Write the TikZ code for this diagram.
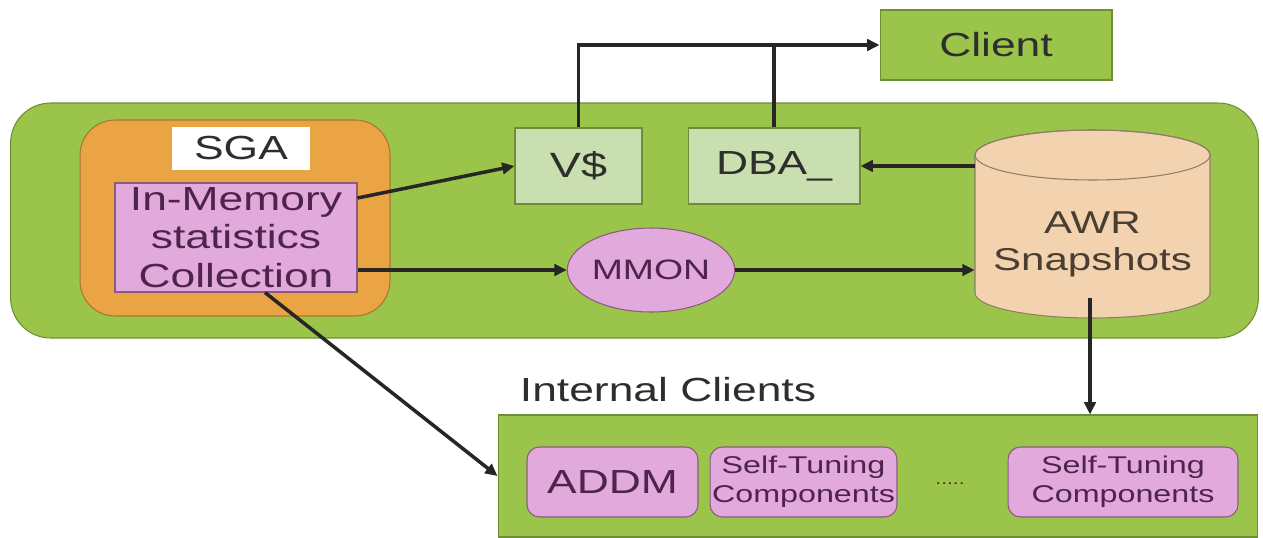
\documentclass[tikz,border=0pt]{standalone}
\usepackage{fontspec}
\setmainfont{Liberation Sans}[FakeStretch=1.33]
\usetikzlibrary{shapes.geometric,arrows.meta,calc}
\definecolor{grn}{HTML}{9BC54A}
\definecolor{grnd}{HTML}{6E8E35}
\definecolor{lgrn}{HTML}{CADFAF}
\definecolor{org}{HTML}{EBA443}
\definecolor{orgd}{HTML}{A7772F}
\definecolor{pnk}{HTML}{E2A9DD}
\definecolor{pnkd}{HTML}{8A5A7F}
\definecolor{pch}{HTML}{F3D3AF}
\definecolor{pchd}{HTML}{8F7E66}
\definecolor{txt}{HTML}{2E2E2E}
\definecolor{ptxt}{HTML}{4E244B}
\definecolor{btxt}{HTML}{4A3E33}
\begin{document}
\begin{tikzpicture}[x=0.02cm,y=-0.02cm,
  big/.style={font=\fontsize{19}{22}\selectfont},
  small/.style={font=\fontsize{13.8}{16.5}\selectfont},
  gbox/.style={draw=grnd, fill=grn, line width=0.6pt, inner sep=0pt},
  lgbox/.style={draw=grnd, fill=lgrn, line width=0.6pt, inner sep=0pt, text=txt, big},
  pbox/.style={draw=pnkd, fill=pnk, line width=0.6pt, inner sep=0pt, text=ptxt, align=center},
  arr/.style={draw=black!85, line width=2pt, -{Triangle[length=7pt,width=6.5pt]}},
  ln/.style={draw=black!85, line width=2pt}]
\useasboundingbox (0,0) rectangle (1263,537);
\fill[white] (0,0) rectangle (1263,537);

% main container
\node[gbox, rounded corners=0.8cm, minimum width=24.96cm, minimum height=4.7cm] (db) at (634.5,220.5) {};
\node[draw=orgd, fill=org, line width=0.6pt, rounded corners=0.7cm, minimum width=6.2cm, minimum height=3.92cm] (sga) at (235,218) {};
\node[fill=white, minimum width=2.76cm, minimum height=0.86cm, inner sep=0pt, text=txt, big] (sgat) at (241,148.5) {SGA};
\node[pbox, big, minimum width=4.84cm, minimum height=2.18cm] (inmem) at (236,237.5) {In-Memory\\statistics\\Collection};

\node[lgbox, font=\fontsize{20}{23}\selectfont, minimum width=2.54cm, minimum height=1.52cm] (v) at (578.5,166) {V\$};
\node[lgbox, minimum width=3.44cm, minimum height=1.52cm] (dba) at (774,166) {DBA\_};
\node[gbox, text=txt, big, minimum width=4.64cm, minimum height=1.4cm] (client) at (996,45) {Client};

\node[ellipse, draw=pnkd, fill=pnk, line width=0.6pt, text=ptxt, font=\fontsize{16}{19}\selectfont, minimum width=2.72cm, minimum height=1.68cm, inner sep=0pt] (mmon) at (651,270) {MMON};

% AWR cylinder
\path[fill=pch, draw=pchd, line width=0.6pt] (975,155) -- (975,293) arc[start angle=180, end angle=360, x radius=2.35cm, y radius=0.5cm] -- (1210,155) arc[start angle=0, end angle=180, x radius=2.35cm, y radius=0.5cm] -- cycle;
\draw[draw=pchd, line width=0.6pt] (1092.5,155) ellipse [x radius=2.35cm, y radius=0.5cm];
\node[minimum width=4.7cm, minimum height=3.8cm, inner sep=0pt] (awr) at (1092.5,223) {};
\node[text=btxt, align=center, font=\fontsize{18}{21}\selectfont] (awrt) at (1092.5,244) {AWR\\Snapshots};
\coordinate (awrout) at (1090,298);

% internal clients
\node[text=txt, big, anchor=center] (iclab) at (668,390) {Internal Clients};
\node[gbox, minimum width=15.2cm, minimum height=2.44cm] (ic) at (878,476) {};
\node[pbox, big, rounded corners=0.25cm, minimum width=3.42cm, minimum height=1.4cm] (addm) at (612.5,482) {ADDM};
\node[pbox, small, rounded corners=0.25cm, minimum width=3.74cm, minimum height=1.4cm] (st1) at (803.5,482) {Self-Tuning\\Components};
\node[text=ptxt, font=\fontsize{9}{10}\selectfont] (dots) at (950,484) {.....};
\node[pbox, small, rounded corners=0.25cm, minimum width=4.6cm, minimum height=1.4cm] (st2) at (1123,482) {Self-Tuning\\Components};

% connectors
\draw[arr] (v.north) |- (client.west);
\draw[ln] (dba.north) -- (dba.north |- client.west);
\draw[arr] ([yshift=0.79cm]inmem.east) -- (v.west);
\draw[arr] (dba.east -| awr.west) -- (dba.east);
\draw[arr] (inmem.east |- mmon.west) -- (mmon.west);
\draw[arr] (mmon.east) -- (mmon.east -| awr.west);
\draw[arr] (awrout) -- (awrout |- ic.north);
\draw[arr] ([xshift=0.58cm]inmem.south) -- (ic.west);
\end{tikzpicture}
\end{document}
